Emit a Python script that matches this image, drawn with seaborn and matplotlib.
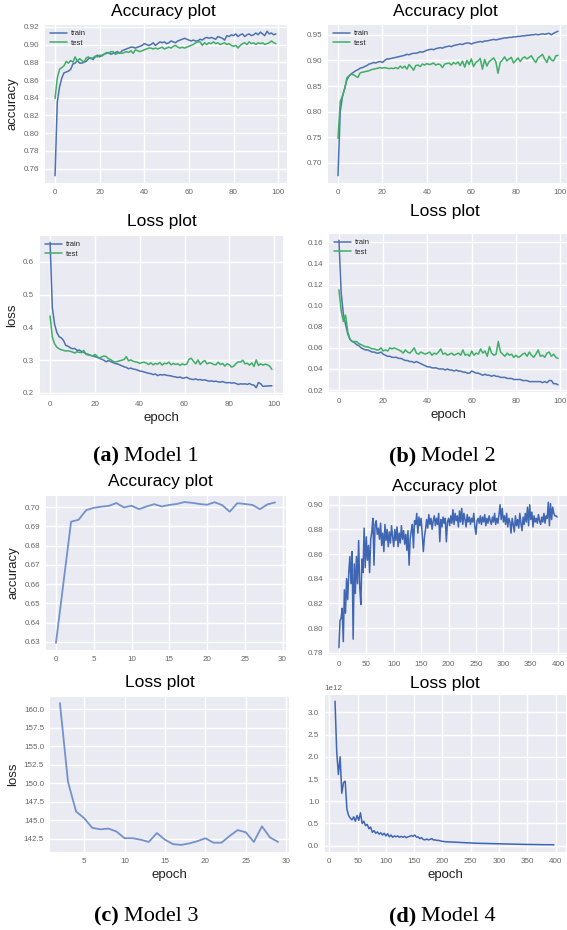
import numpy as np
import matplotlib
matplotlib.use("Agg")
import matplotlib.pyplot as plt
import seaborn as sns

# ---------------- data ----------------
m1_epochs = np.arange(100)
m1_acc_train = [
    0.752, 0.835, 0.852, 0.862, 0.868, 0.869, 0.870, 0.872, 0.878, 0.879,
    0.882, 0.879, 0.879, 0.880, 0.881, 0.884, 0.885, 0.883, 0.886, 0.888,
    0.886, 0.888, 0.889, 0.890, 0.891, 0.889, 0.890, 0.891, 0.892, 0.890,
    0.893, 0.894, 0.895, 0.896, 0.897, 0.897, 0.896, 0.897, 0.898, 0.899,
    0.901, 0.900, 0.899, 0.900, 0.902, 0.899, 0.901, 0.903, 0.902, 0.903,
    0.901, 0.902, 0.904, 0.903, 0.902, 0.904, 0.905, 0.906, 0.907, 0.906,
    0.905, 0.904, 0.905, 0.904, 0.904, 0.906, 0.905, 0.907, 0.908, 0.907,
    0.908, 0.907, 0.906, 0.909, 0.908, 0.907, 0.905, 0.910, 0.909, 0.911,
    0.910, 0.912, 0.909, 0.911, 0.912, 0.909, 0.911, 0.912, 0.910, 0.911,
    0.913, 0.911, 0.914, 0.912, 0.910, 0.915, 0.912, 0.913, 0.911, 0.912,
]
m1_acc_test = [
    0.839, 0.862, 0.872, 0.874, 0.876, 0.881, 0.879, 0.882, 0.880, 0.886,
    0.881, 0.884, 0.882, 0.880, 0.885, 0.886, 0.884, 0.885, 0.887, 0.886,
    0.888, 0.887, 0.889, 0.891, 0.890, 0.892, 0.892, 0.889, 0.890, 0.891,
    0.890, 0.891, 0.892, 0.891, 0.893, 0.890, 0.894, 0.893, 0.892, 0.893,
    0.894, 0.895, 0.896, 0.896, 0.895, 0.896, 0.895, 0.896, 0.897, 0.895,
    0.896, 0.897, 0.896, 0.898, 0.899, 0.897, 0.896, 0.897, 0.896, 0.897,
    0.898, 0.899, 0.900, 0.902, 0.903, 0.903, 0.899, 0.902, 0.900, 0.902,
    0.901, 0.903, 0.901, 0.902, 0.900, 0.901, 0.902, 0.900, 0.901, 0.899,
    0.898, 0.899, 0.896, 0.899, 0.901, 0.902, 0.900, 0.903, 0.901, 0.902,
    0.900, 0.902, 0.901, 0.902, 0.900, 0.901, 0.902, 0.904, 0.902, 0.901,
]
m1_loss_train = [
    0.660, 0.460, 0.410, 0.385, 0.372, 0.368, 0.360, 0.345, 0.343, 0.338,
    0.335, 0.336, 0.330, 0.331, 0.327, 0.324, 0.320, 0.318, 0.315, 0.313,
    0.311, 0.309, 0.306, 0.303, 0.300, 0.295, 0.299, 0.296, 0.293, 0.290,
    0.289, 0.286, 0.283, 0.280, 0.278, 0.274, 0.276, 0.273, 0.272, 0.270,
    0.267, 0.266, 0.264, 0.262, 0.260, 0.259, 0.256, 0.258, 0.253, 0.256,
    0.255, 0.256, 0.254, 0.253, 0.252, 0.250, 0.249, 0.247, 0.249, 0.245,
    0.246, 0.248, 0.244, 0.242, 0.241, 0.243, 0.240, 0.241, 0.239, 0.240,
    0.238, 0.236, 0.237, 0.235, 0.236, 0.234, 0.233, 0.235, 0.232, 0.231,
    0.232, 0.230, 0.231, 0.229, 0.226, 0.228, 0.227, 0.228, 0.226, 0.229,
    0.225, 0.224, 0.216, 0.232, 0.228, 0.220, 0.221, 0.221, 0.222, 0.222,
]
m1_loss_test = [
    0.435, 0.370, 0.350, 0.340, 0.335, 0.332, 0.330, 0.328, 0.329, 0.327,
    0.325, 0.322, 0.326, 0.324, 0.323, 0.330, 0.318, 0.316, 0.315, 0.312,
    0.318, 0.312, 0.306, 0.310, 0.313, 0.311, 0.305, 0.302, 0.297, 0.295,
    0.296, 0.298, 0.300, 0.302, 0.311, 0.298, 0.301, 0.297, 0.295, 0.294,
    0.290, 0.293, 0.294, 0.291, 0.287, 0.292, 0.286, 0.290, 0.288, 0.293,
    0.285, 0.291, 0.289, 0.294, 0.286, 0.290, 0.287, 0.289, 0.284, 0.289,
    0.286, 0.288, 0.303, 0.306, 0.297, 0.289, 0.301, 0.287, 0.294, 0.299,
    0.289, 0.292, 0.291, 0.287, 0.286, 0.294, 0.287, 0.290, 0.282, 0.289,
    0.286, 0.279, 0.282, 0.290, 0.295, 0.294, 0.300, 0.289, 0.291, 0.285,
    0.292, 0.281, 0.301, 0.284, 0.289, 0.285, 0.288, 0.286, 0.282, 0.272,
]

m2_epochs = np.arange(100)
m2_acc_train = [
    0.675, 0.800, 0.830, 0.845, 0.862, 0.870, 0.874, 0.877, 0.880, 0.882,
    0.885, 0.886, 0.888, 0.890, 0.893, 0.894, 0.896, 0.895, 0.897, 0.898,
    0.896, 0.900, 0.903, 0.903, 0.904, 0.905, 0.906, 0.907, 0.908, 0.909,
    0.910, 0.912, 0.911, 0.913, 0.914, 0.914, 0.915, 0.917, 0.916, 0.918,
    0.920, 0.921, 0.922, 0.921, 0.923, 0.924, 0.925, 0.924, 0.926, 0.927,
    0.928, 0.927, 0.929, 0.930, 0.931, 0.932, 0.931, 0.933, 0.934, 0.934,
    0.932, 0.934, 0.935, 0.936, 0.937, 0.936, 0.938, 0.938, 0.939, 0.940,
    0.941, 0.940, 0.941, 0.942, 0.943, 0.944, 0.944, 0.945, 0.945, 0.946,
    0.946, 0.947, 0.947, 0.948, 0.948, 0.949, 0.949, 0.950, 0.950, 0.951,
    0.950, 0.951, 0.952, 0.951, 0.952, 0.953, 0.950, 0.953, 0.955, 0.957,
]
m2_acc_test = [
    0.748, 0.820, 0.830, 0.845, 0.866, 0.870, 0.873, 0.872, 0.869, 0.867,
    0.876, 0.877, 0.878, 0.879, 0.880, 0.882, 0.883, 0.884, 0.885, 0.886,
    0.885, 0.886, 0.885, 0.884, 0.885, 0.884, 0.886, 0.884, 0.889, 0.885,
    0.889, 0.883, 0.892, 0.887, 0.881, 0.890, 0.891, 0.888, 0.893, 0.891,
    0.894, 0.892, 0.893, 0.895, 0.891, 0.893, 0.892, 0.886, 0.893, 0.894,
    0.895, 0.891, 0.896, 0.893, 0.897, 0.890, 0.899, 0.887, 0.900, 0.892,
    0.903, 0.888, 0.896, 0.899, 0.904, 0.883, 0.902, 0.889, 0.898, 0.901,
    0.905, 0.898, 0.875, 0.896, 0.901, 0.907, 0.899, 0.903, 0.906, 0.895,
    0.900, 0.905, 0.898, 0.904, 0.907, 0.903, 0.906, 0.909, 0.902, 0.896,
    0.905, 0.908, 0.912, 0.903, 0.896, 0.908, 0.901, 0.899, 0.909, 0.910,
]
m2_loss_train = [
    0.162, 0.112, 0.092, 0.082, 0.073, 0.068, 0.066, 0.065, 0.063, 0.062,
    0.060, 0.059, 0.058, 0.058, 0.057, 0.056, 0.056, 0.055, 0.055, 0.056,
    0.054, 0.053, 0.052, 0.052, 0.051, 0.051, 0.051, 0.050, 0.050, 0.049,
    0.048, 0.048, 0.047, 0.047, 0.046, 0.047, 0.046, 0.045, 0.044, 0.043,
    0.042, 0.042, 0.041, 0.041, 0.041, 0.040, 0.040, 0.040, 0.039, 0.040,
    0.039, 0.039, 0.038, 0.039, 0.038, 0.038, 0.037, 0.037, 0.036, 0.036,
    0.038, 0.037, 0.036, 0.036, 0.035, 0.034, 0.035, 0.034, 0.034, 0.033,
    0.034, 0.033, 0.033, 0.032, 0.032, 0.032, 0.031, 0.031, 0.031, 0.030,
    0.030, 0.030, 0.030, 0.029, 0.029, 0.029, 0.028, 0.028, 0.028, 0.028,
    0.028, 0.028, 0.027, 0.028, 0.027, 0.029, 0.029, 0.026, 0.026, 0.025,
]
m2_loss_test = [
    0.115, 0.095, 0.085, 0.091, 0.075, 0.068, 0.066, 0.066, 0.066, 0.064,
    0.063, 0.062, 0.061, 0.061, 0.060, 0.059, 0.059, 0.058, 0.058, 0.060,
    0.057, 0.058, 0.057, 0.060, 0.059, 0.060, 0.059, 0.058, 0.057, 0.055,
    0.058, 0.056, 0.055, 0.057, 0.060, 0.055, 0.054, 0.056, 0.055, 0.054,
    0.055, 0.056, 0.053, 0.055, 0.054, 0.056, 0.059, 0.054, 0.055, 0.053,
    0.054, 0.055, 0.053, 0.054, 0.055, 0.053, 0.058, 0.053, 0.054, 0.052,
    0.057, 0.053, 0.055, 0.054, 0.059, 0.055, 0.057, 0.052, 0.061, 0.055,
    0.053, 0.054, 0.066, 0.056, 0.054, 0.052, 0.055, 0.053, 0.054, 0.051,
    0.053, 0.051, 0.052, 0.054, 0.055, 0.052, 0.056, 0.053, 0.051, 0.054,
    0.058, 0.052, 0.053, 0.051, 0.055, 0.056, 0.052, 0.054, 0.051, 0.050,
]

m3_acc_epochs = np.arange(30)
m3_acc = [
    0.6295, 0.661, 0.6925, 0.6935, 0.6985, 0.6997, 0.7003, 0.7007, 0.7022, 0.6999,
    0.7008, 0.6990, 0.7004, 0.7016, 0.7004, 0.7012, 0.7017, 0.7027, 0.7023, 0.7017,
    0.7013, 0.7026, 0.7011, 0.6977, 0.7021, 0.7017, 0.7012, 0.6990, 0.7015, 0.7025,
]
m3_loss_epochs = np.arange(2, 30)
m3_loss = [
    160.8, 150.2, 146.2, 145.3, 144.0, 143.8, 143.9, 143.5, 142.6, 142.6,
    142.4, 142.1, 143.3, 142.4, 141.8, 141.7, 141.9, 142.2, 142.6, 142.0,
    142.0, 142.9, 143.7, 143.4, 142.1, 144.2, 142.7, 142.1,
]

m4_acc_epochs = np.arange(0, 400, 2)
m4_acc = [
    0.784, 0.806, 0.808, 0.816, 0.789, 0.831, 0.812, 0.840, 0.823, 0.845,
    0.858, 0.836, 0.862, 0.791, 0.852, 0.828, 0.858, 0.836, 0.871, 0.833,
    0.819, 0.856, 0.845, 0.881, 0.849, 0.874, 0.855, 0.867, 0.845, 0.872,
    0.878, 0.889, 0.851, 0.884, 0.887, 0.876, 0.881, 0.872, 0.885, 0.867,
    0.877, 0.862, 0.884, 0.871, 0.880, 0.866, 0.878, 0.869, 0.883, 0.874,
    0.866, 0.880, 0.871, 0.882, 0.866, 0.877, 0.869, 0.883, 0.872, 0.879,
    0.868, 0.876, 0.863, 0.879, 0.851, 0.872, 0.879, 0.884, 0.865, 0.887,
    0.884, 0.893, 0.877, 0.890, 0.883, 0.889, 0.876, 0.862, 0.874, 0.880,
    0.888, 0.881, 0.892, 0.884, 0.889, 0.880, 0.887, 0.891, 0.883, 0.889,
    0.884, 0.893, 0.870, 0.888, 0.882, 0.890, 0.885, 0.889, 0.870, 0.886,
    0.889, 0.883, 0.891, 0.885, 0.896, 0.884, 0.893, 0.887, 0.891, 0.882,
    0.895, 0.886, 0.897, 0.884, 0.893, 0.888, 0.882, 0.892, 0.886, 0.890,
    0.884, 0.889, 0.886, 0.893, 0.882, 0.876, 0.887, 0.889, 0.885, 0.891,
    0.884, 0.890, 0.886, 0.892, 0.883, 0.889, 0.885, 0.891, 0.887, 0.884,
    0.890, 0.886, 0.893, 0.884, 0.889, 0.885, 0.892, 0.900, 0.888, 0.897,
    0.886, 0.891, 0.884, 0.893, 0.882, 0.889, 0.886, 0.877, 0.889, 0.884,
    0.878, 0.891, 0.883, 0.888, 0.881, 0.893, 0.885, 0.879, 0.890, 0.884,
    0.893, 0.886, 0.898, 0.883, 0.900, 0.888, 0.894, 0.882, 0.891, 0.886,
    0.889, 0.885, 0.892, 0.887, 0.884, 0.890, 0.886, 0.893, 0.885, 0.891,
    0.889, 0.902, 0.883, 0.901, 0.888, 0.898, 0.893, 0.891, 0.891, 0.890,
]
m4_loss_epochs = np.arange(10, 400, 3)
m4_loss_e12 = [
    3.25, 2.10, 1.60, 2.00, 1.18, 1.42, 1.45, 0.82, 0.68, 0.62,
    0.58, 0.65, 0.55, 0.68, 0.57, 0.74, 0.50, 0.55, 0.45, 0.48,
    0.38, 0.42, 0.30, 0.34, 0.28, 0.31, 0.26, 0.29, 0.24, 0.28,
    0.22, 0.27, 0.20, 0.24, 0.19, 0.22, 0.20, 0.22, 0.19, 0.21,
    0.19, 0.21, 0.18, 0.20, 0.21, 0.23, 0.21, 0.24, 0.19, 0.20,
    0.16, 0.18, 0.14, 0.13, 0.15, 0.13, 0.14, 0.16, 0.13, 0.13,
    0.12, 0.12, 0.11, 0.10, 0.095, 0.090, 0.088, 0.085, 0.082, 0.080,
    0.078, 0.076, 0.074, 0.072, 0.070, 0.068, 0.066, 0.065, 0.064, 0.062,
    0.060, 0.059, 0.058, 0.056, 0.055, 0.054, 0.052, 0.051, 0.050, 0.049,
    0.048, 0.047, 0.046, 0.045, 0.044, 0.043, 0.042, 0.041, 0.040, 0.039,
    0.038, 0.037, 0.036, 0.036, 0.035, 0.034, 0.033, 0.033, 0.032, 0.031,
    0.031, 0.030, 0.029, 0.029, 0.028, 0.027, 0.027, 0.026, 0.026, 0.025,
    0.025, 0.024, 0.024, 0.023, 0.023, 0.022, 0.022, 0.021, 0.021, 0.020,
]
m4_loss = np.array(m4_loss_e12) * 1e12

# tick values shown on each panel
ticks_m1_acc = [0.76, 0.78, 0.80, 0.82, 0.84, 0.86, 0.88, 0.90, 0.92]
ticks_m1_loss = [0.2, 0.3, 0.4, 0.5, 0.6]
ticks_m2_acc = [0.70, 0.75, 0.80, 0.85, 0.90, 0.95]
ticks_m2_loss = [0.02, 0.04, 0.06, 0.08, 0.10, 0.12, 0.14, 0.16]
ticks_m3_acc = [0.63, 0.64, 0.65, 0.66, 0.67, 0.68, 0.69, 0.70]
ticks_m3_loss = [142.5, 145.0, 147.5, 150.0, 152.5, 155.0, 157.5, 160.0]
ticks_m4_acc = [0.78, 0.80, 0.82, 0.84, 0.86, 0.88, 0.90]
ticks_m4_loss = [0.0, 0.5e12, 1.0e12, 1.5e12, 2.0e12, 2.5e12, 3.0e12]
xt_100 = [0, 20, 40, 60, 80, 100]
xt_30 = [0, 5, 10, 15, 20, 25, 30]
xt_30_loss = [5, 10, 15, 20, 25, 30]
xt_400 = [0, 50, 100, 150, 200, 250, 300, 350, 400]

# ---------------- style ----------------
sns.set_style("darkgrid", {"axes.facecolor": "#EAEAF2", "grid.color": "white"})
plt.rcParams["font.family"] = ["Liberation Sans", "DejaVu Sans"]
plt.rcParams.update({
    "xtick.labelsize": 5.8,
    "ytick.labelsize": 5.8,
    "xtick.color": "#666666",
    "ytick.color": "#666666",
    "xtick.major.size": 0,
    "ytick.major.size": 0,
    "xtick.major.pad": 4.0,
    "ytick.major.pad": 3.5,
    "grid.linewidth": 1.0,
})

BLUE = "#4C72B0"
GREEN = "#3fae66"
BLUE3 = "#7391cb"
BLUE4 = "#3f66b3"

W, H = 567, 930
fig = plt.figure(figsize=(W / 100, H / 100), dpi=100)


def panel(box, title, tx, pad, xticks, yticks):
    x0, y0, x1, y1 = box
    ax = fig.add_axes([x0 / W, 1 - y1 / H, (x1 - x0) / W, (y1 - y0) / H])
    ax._pending = (title, tx, pad, xticks, yticks)
    return ax


def finish(ax, ylabel=None, xlabel=None, legend=False):
    title, tx, pad, xticks, yticks = ax._pending
    ax.set_xticks(xticks)
    ax.set_yticks(yticks)
    ax.set_title(title, fontsize=12.5, x=tx, pad=pad, color="black")
    ax.set_xlabel(xlabel if xlabel else "", fontsize=9.5, labelpad=3, color="#222222")
    ax.set_ylabel(ylabel if ylabel else "", fontsize=9.5, labelpad=3.5, color="#222222")
    if legend:
        ax.legend(loc="upper left", frameon=False, fontsize=5.5, labelspacing=0.3,
                  handlelength=2.2, handletextpad=0.5, borderaxespad=0.4)
    elif ax.get_legend() is not None:
        ax.get_legend().remove()


def line(ax, x, y, color, label=None, lw=1.1):
    sns.lineplot(x=x, y=y, ax=ax, color=color, linewidth=lw, label=label)


# (a) Model 1
ax = panel((44, 24, 287, 183), "Accuracy plot", 0.49, 6, xt_100, ticks_m1_acc)
line(ax, m1_epochs, m1_acc_train, BLUE, "train")
line(ax, m1_epochs, m1_acc_test, GREEN, "test")
finish(ax, ylabel="accuracy", legend=True)

ax = panel((39, 235, 283, 395), "Loss plot", 0.505, 6.7, xt_100, ticks_m1_loss)
line(ax, m1_epochs, m1_loss_train, BLUE, "train")
line(ax, m1_epochs, m1_loss_test, GREEN, "test")
finish(ax, ylabel="loss", xlabel="epoch", legend=True)

# (b) Model 2
ax = panel((327, 24, 569, 183), "Accuracy plot", 0.488, 5.8, xt_100, ticks_m2_acc)
line(ax, m2_epochs, m2_acc_train, BLUE, "train")
line(ax, m2_epochs, m2_acc_test, GREEN, "test")
finish(ax, legend=True)

ax = panel((328, 233, 569, 392), "Loss plot", 0.485, 12.5, xt_100, ticks_m2_loss)
line(ax, m2_epochs, m2_loss_train, BLUE, "train")
line(ax, m2_epochs, m2_loss_test, GREEN, "test")
finish(ax, xlabel="epoch", legend=True)

# (c) Model 3
ax = panel((45, 495, 286, 650), "Accuracy plot", 0.48, 6.5, xt_30, ticks_m3_acc)
line(ax, m3_acc_epochs, m3_acc, BLUE3, lw=1.3)
finish(ax, ylabel="accuracy")

ax = panel((49, 696, 289, 852), "Loss plot", 0.464, 6.7, xt_30_loss, ticks_m3_loss)
line(ax, m3_loss_epochs, m3_loss, BLUE3, lw=1.3)
finish(ax, ylabel="loss", xlabel="epoch")

# (d) Model 4
ax = panel((328, 495, 568, 655), "Accuracy plot", 0.486, 3, xt_400, ticks_m4_acc)
line(ax, m4_acc_epochs, m4_acc, BLUE4, lw=1.1)
finish(ax)

ax = panel((324, 694, 566, 852), "Loss plot", 0.5, 4.5, xt_400, ticks_m4_loss)
line(ax, m4_loss_epochs, m4_loss, BLUE4, lw=1.1)
ax.set_xlim(-9.5, 418.5)
finish(ax, xlabel="epoch")

# captions
captions = [("(a)", "Model 1", 119, 461), ("(b)", "Model 2", 416, 461),
            ("(c)", "Model 3", 119, 921), ("(d)", "Model 4", 416, 921)]
for tag, name, xs, yb in captions:
    fig.text(xs / W, 1 - yb / H, tag, ha="right", va="baseline", fontsize=16,
             fontweight="bold", family="Liberation Serif", color="black")
    fig.text((xs + 5) / W, 1 - yb / H, name, ha="left", va="baseline", fontsize=16,
             family="Liberation Serif", color="black")

fig.savefig("out.png", dpi=100, facecolor="white")
